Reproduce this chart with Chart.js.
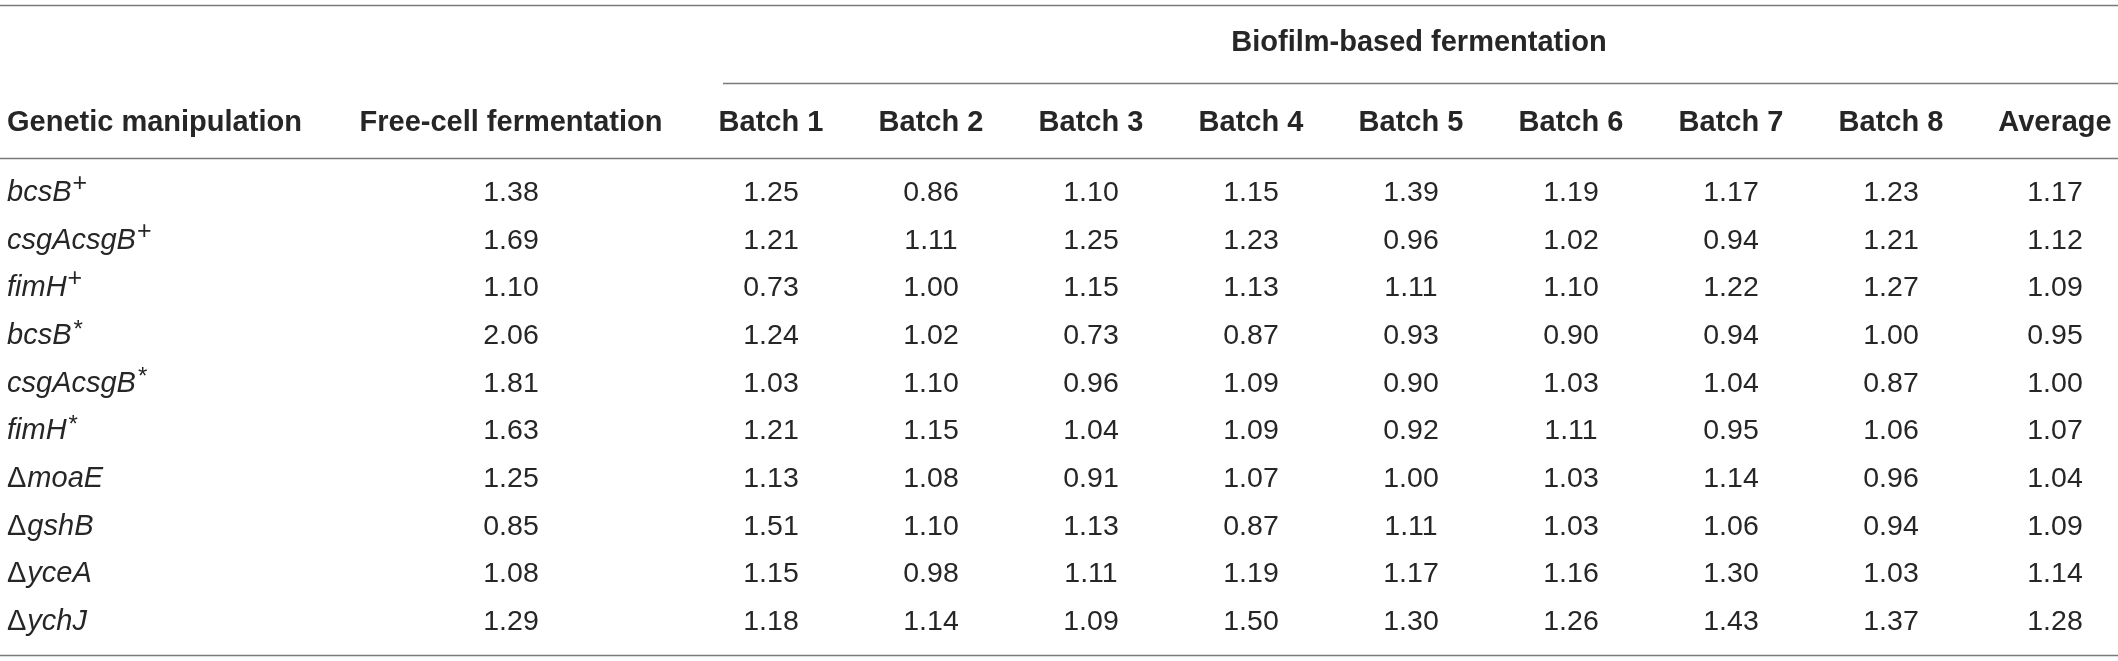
<!DOCTYPE html>
<html>
<head>
<meta charset="utf-8">
<script src="https://cdn.jsdelivr.net/npm/chart.js@4.4.1/dist/chart.umd.min.js"></script>
<style>
    html, body { margin: 0; padding: 0; background: #ffffff; }
    #wrap { width: 2118px; height: 661px; position: relative; }
</style>
</head>
<body>
<div id="wrap"><canvas id="tableChart"></canvas></div>
<script>
// Table data
const genes = ['bcsB', 'csgAcsgB', 'fimH', 'bcsB', 'csgAcsgB', 'fimH', 'moaE', 'gshB', 'yceA', 'ychJ'];
const genePrefix = ['', '', '', '', '', '', '\u0394', '\u0394', '\u0394', '\u0394'];
const geneMark = ['+', '+', '+', '*', '*', '*', '', '', '', ''];

const columnHeaders = ['Genetic manipulation', 'Free-cell fermentation', 'Batch 1', 'Batch 2', 'Batch 3',
    'Batch 4', 'Batch 5', 'Batch 6', 'Batch 7', 'Batch 8', 'Average'];
const groupHeader = 'Biofilm-based fermentation';

const freeCell = [1.38, 1.69, 1.10, 2.06, 1.81, 1.63, 1.25, 0.85, 1.08, 1.29];
const batch1 = [1.25, 1.21, 0.73, 1.24, 1.03, 1.21, 1.13, 1.51, 1.15, 1.18];
const batch2 = [0.86, 1.11, 1.00, 1.02, 1.10, 1.15, 1.08, 1.10, 0.98, 1.14];
const batch3 = [1.10, 1.25, 1.15, 0.73, 0.96, 1.04, 0.91, 1.13, 1.11, 1.09];
const batch4 = [1.15, 1.23, 1.13, 0.87, 1.09, 1.09, 1.07, 0.87, 1.19, 1.50];
const batch5 = [1.39, 0.96, 1.11, 0.93, 0.90, 0.92, 1.00, 1.11, 1.17, 1.30];
const batch6 = [1.19, 1.02, 1.10, 0.90, 1.03, 1.11, 1.03, 1.03, 1.16, 1.26];
const batch7 = [1.17, 0.94, 1.22, 0.94, 1.04, 0.95, 1.14, 1.06, 1.30, 1.43];
const batch8 = [1.23, 1.21, 1.27, 1.00, 0.87, 1.06, 0.96, 0.94, 1.03, 1.37];
const average = [1.17, 1.12, 1.09, 0.95, 1.00, 1.07, 1.04, 1.09, 1.14, 1.28];

const valueColumns = [freeCell, batch1, batch2, batch3, batch4, batch5, batch6, batch7, batch8, average];

// Layout (in scale units, the scales map them onto the canvas)
const colX = [7, 511, 771, 931, 1091, 1251, 1411, 1571, 1731, 1891, 2055];
const rowTop = 193;
const rowPitch = 47.67;
const headerY = 123;
const groupY = 43;
const rules = [
    { y: 5, from: 0, to: 2118 },
    { y: 83, from: 723, to: 2118 },
    { y: 158, from: 0, to: 2118 },
    { y: 655, from: 0, to: 2118 }
];

const textColor = '#262626';
const ruleColor = '#7a7a7a';
const family = '"Liberation Sans", Arial, Helvetica, sans-serif';
const bodySize = 28.5;
const labelSize = 29;
const headSize = 29;

function rowY(i) {
    return rowTop + i * rowPitch;
}

// one scatter dataset per column, each point is a table cell
const datasets = [];
datasets.push({
    label: columnHeaders[0],
    data: genes.map((g, i) => ({ x: colX[0], y: rowY(i), gene: g, prefix: genePrefix[i], mark: geneMark[i] })),
    pointRadius: 0,
    kind: 'label'
});
valueColumns.forEach((col, c) => {
    datasets.push({
        label: columnHeaders[c + 1],
        data: col.map((v, i) => ({ x: colX[c + 1], y: rowY(i), v: v })),
        pointRadius: 0,
        kind: 'value'
    });
});

const tablePlugin = {
    id: 'tableText',
    afterDatasetsDraw(chart) {
        const ctx = chart.ctx;
        const xs = chart.scales.x;
        const ys = chart.scales.y;
        ctx.save();

        // horizontal rules
        ctx.strokeStyle = ruleColor;
        ctx.lineWidth = 1.6;
        rules.forEach(r => {
            const py = Math.round(ys.getPixelForValue(r.y)) + 0.5;
            ctx.beginPath();
            ctx.moveTo(xs.getPixelForValue(r.from), py);
            ctx.lineTo(xs.getPixelForValue(r.to), py);
            ctx.stroke();
        });

        // headers
        ctx.fillStyle = textColor;
        ctx.textBaseline = 'middle';
        ctx.font = 'bold ' + headSize + 'px ' + family;
        ctx.textAlign = 'center';
        const gx = (xs.getPixelForValue(colX[2]) + xs.getPixelForValue(colX[colX.length - 1])) / 2;
        ctx.fillText(groupHeader, gx + 6, ys.getPixelForValue(groupY));
        columnHeaders.forEach((h, c) => {
            ctx.textAlign = c === 0 ? 'left' : 'center';
            ctx.fillText(h, xs.getPixelForValue(colX[c]), ys.getPixelForValue(headerY));
        });

        // cells
        chart.data.datasets.forEach((ds, di) => {
            const meta = chart.getDatasetMeta(di);
            meta.data.forEach((pt, i) => {
                const d = ds.data[i];
                if (ds.kind === 'value') {
                    ctx.font = bodySize + 'px ' + family;
                    ctx.textAlign = 'center';
                    ctx.fillText(d.v.toFixed(2), pt.x, pt.y);
                } else {
                    let x = pt.x;
                    ctx.textAlign = 'left';
                    if (d.prefix) {
                        ctx.font = labelSize + 'px ' + family;
                        ctx.fillText(d.prefix, x, pt.y);
                        x += ctx.measureText(d.prefix).width + 1;
                    }
                    ctx.font = 'italic ' + labelSize + 'px ' + family;
                    ctx.fillText(d.gene, x, pt.y);
                    x += ctx.measureText(d.gene).width + 1;
                    if (d.mark === '+') {
                        ctx.font = '25px ' + family;
                        ctx.fillText(d.mark, x, pt.y - 9);
                    } else if (d.mark) {
                        ctx.font = 'italic 24px ' + family;
                        ctx.fillText(d.mark, x, pt.y - 6);
                    }
                }
            });
        });
        ctx.restore();
    }
};

new Chart(document.getElementById('tableChart'), {
    type: 'scatter',
    data: { datasets: datasets },
    options: {
        responsive: true,
        maintainAspectRatio: false,
        animation: false,
        devicePixelRatio: 1,
        layout: { padding: 0 },
        plugins: { legend: { display: false }, tooltip: { enabled: false } },
        scales: {
            x: { type: 'linear', display: false, min: 0, max: 2118 },
            y: { type: 'linear', display: false, min: 0, max: 661, reverse: true }
        }
    },
    plugins: [tablePlugin]
});
</script>
</body>
</html>
